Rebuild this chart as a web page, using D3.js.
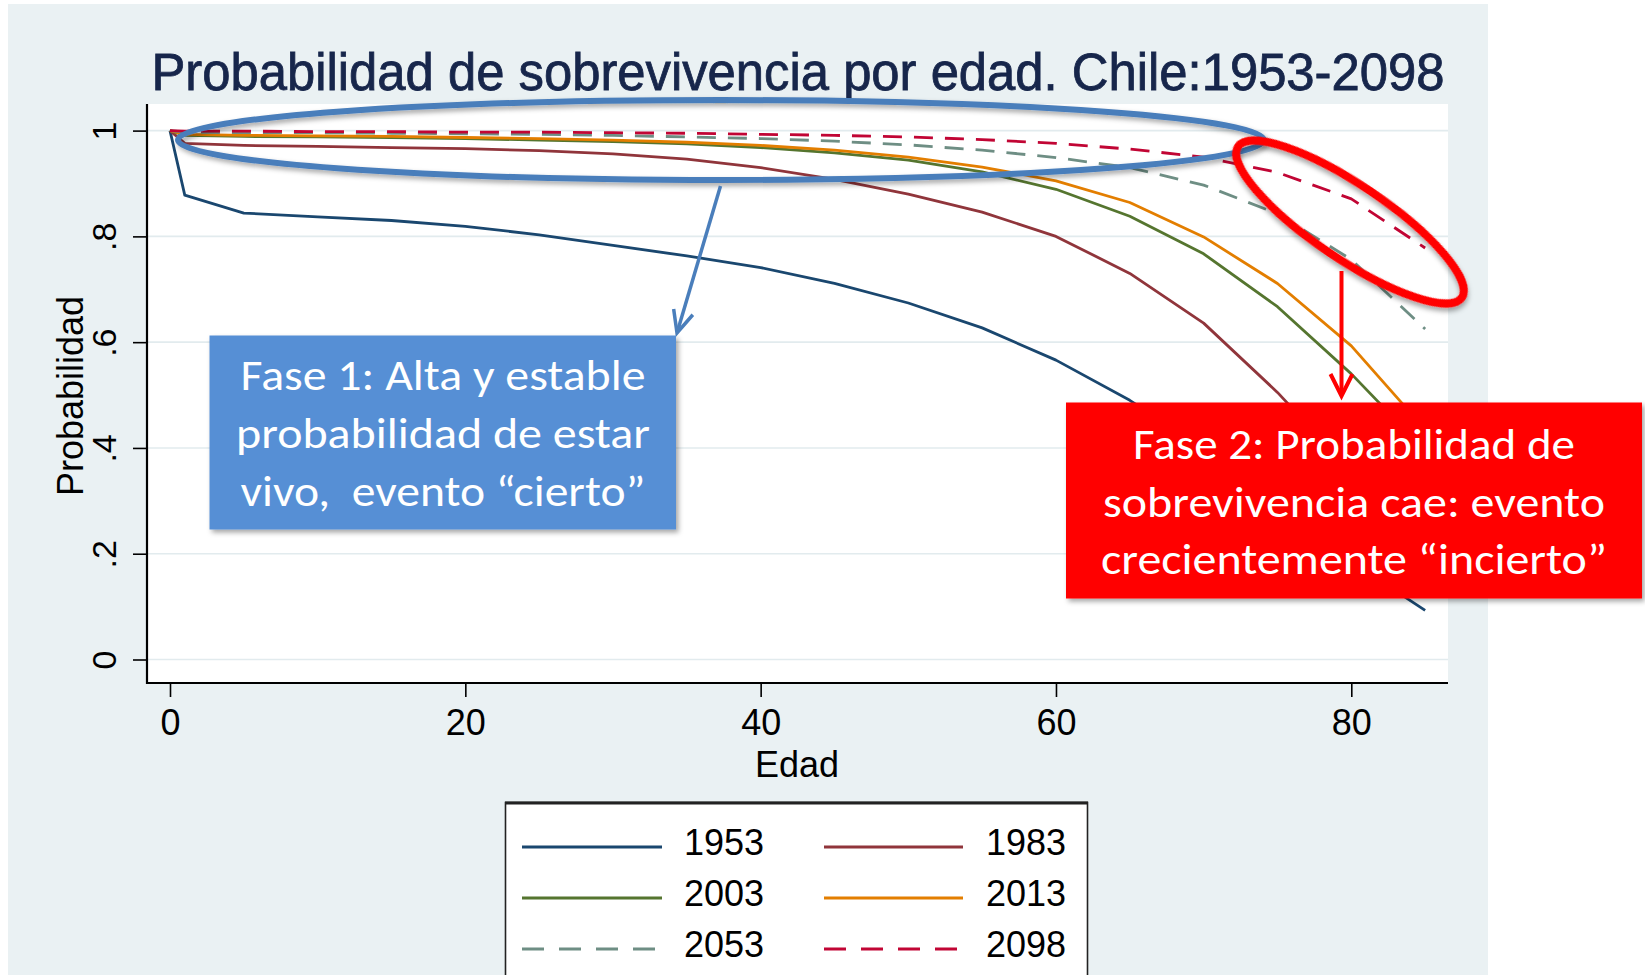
<!DOCTYPE html>
<html>
<head>
<meta charset="utf-8">
<script src="https://cdn.jsdelivr.net/npm/d3@7"></script>
<style>
  html, body { margin: 0; padding: 0; background: #ffffff; }
  svg { display: block; }
</style>
</head>
<body>
<svg id="chart" width="1645" height="975"></svg>
<script>
// ---------------- DATA ----------------
const ages = [0, 1, 5, 10, 15, 20, 25, 30, 35, 40, 45, 50, 55, 60, 65, 70, 75, 80, 85];
const s1953 = [1.000, 0.878, 0.844, 0.837, 0.830, 0.819, 0.803, 0.783, 0.763, 0.741, 0.711, 0.674, 0.627, 0.566, 0.490, 0.400, 0.300, 0.185, 0.093];
const s1983 = [1.000, 0.976, 0.972, 0.970, 0.968, 0.966, 0.962, 0.956, 0.946, 0.930, 0.908, 0.880, 0.846, 0.800, 0.730, 0.636, 0.505, 0.355, 0.205];
const s2003 = [1.000, 0.991, 0.989, 0.988, 0.987, 0.985, 0.982, 0.979, 0.975, 0.968, 0.958, 0.944, 0.922, 0.889, 0.838, 0.767, 0.667, 0.540, 0.395];
const s2013 = [1.000, 0.993, 0.991, 0.990, 0.989, 0.987, 0.985, 0.982, 0.978, 0.972, 0.963, 0.950, 0.931, 0.905, 0.864, 0.799, 0.711, 0.593, 0.435];
const s2053 = [1.000, 0.997, 0.996, 0.996, 0.995, 0.994, 0.993, 0.991, 0.988, 0.985, 0.980, 0.973, 0.963, 0.949, 0.930, 0.897, 0.843, 0.756, 0.625];
const s2098 = [1.000, 0.999, 0.999, 0.998, 0.998, 0.997, 0.997, 0.996, 0.995, 0.993, 0.991, 0.988, 0.983, 0.976, 0.965, 0.950, 0.921, 0.871, 0.778];
const seriesNames = ["1953", "1983", "2003", "2013", "2053", "2098"];
const seriesValues = [s1953, s1983, s2003, s2013, s2053, s2098];
const xTicks = [0, 20, 40, 60, 80];
const yTicks = [0, 0.2, 0.4, 0.6, 0.8, 1];
const yTickLabels = ["0", ".2", ".4", ".6", ".8", "1"];
const titleText = "Probabilidad de sobrevivencia por edad. Chile:1953-2098";
const xTitle = "Edad";
const yTitle = "Probabilidad";
const note1 = ["Fase 1: Alta y estable", "probabilidad de estar", "vivo,  evento \u201ccierto\u201d"];
const note2 = ["Fase 2: Probabilidad de", "sobrevivencia cae: evento", "crecientemente \u201cincierto\u201d"];

// ---------------- STYLE ----------------
const colors = ["#1a476f", "#90353b", "#55752f", "#e37e00", "#6e8e84", "#c10534"];
const dashes = [null, null, null, null, "19,12", "19,12"];
const stataFont = "'Liberation Sans', Arial, Helvetica, sans-serif";
const noteFont = "Carlito, Calibri, Lato, sans-serif";

const svg = d3.select("#chart");
const defs = svg.append("defs");
const f = defs.append("filter").attr("id", "shadow").attr("x", "-10%").attr("y", "-10%").attr("width", "130%").attr("height", "140%");
f.append("feDropShadow").attr("dx", 2.5).attr("dy", 3).attr("stdDeviation", 2.5)
  .attr("flood-color", "#000").attr("flood-opacity", 0.35);

// background panel
svg.append("rect").attr("x", 0).attr("y", 0).attr("width", 1645).attr("height", 975).attr("fill", "#ffffff");
svg.append("rect").attr("x", 8).attr("y", 4).attr("width", 1480).attr("height", 975).attr("fill", "#eaf1f3");

// plot region
const plotL = 147, plotR = 1448, plotT = 104, plotB = 683;
svg.append("rect").attr("x", plotL).attr("y", plotT).attr("width", plotR - plotL).attr("height", plotB - plotT).attr("fill", "#ffffff");

const x = d3.scaleLinear().domain([0, 80]).range([170, 1351.3]);
const y = d3.scaleLinear().domain([0, 1]).range([659.5, 130.6]);

// gridlines
svg.append("g").selectAll("line").data(yTicks).join("line")
  .attr("x1", plotL).attr("x2", plotR)
  .attr("y1", d => y(d)).attr("y2", d => y(d))
  .attr("stroke", "#e2ebee").attr("stroke-width", 1.6);

// title
svg.append("text").attr("x", 798).attr("y", 90).attr("text-anchor", "middle")
  .attr("font-family", stataFont).attr("font-size", 51).attr("fill", "#17264b")
  .attr("stroke", "#17264b").attr("stroke-width", 0.8)
  .attr("textLength", 1293).attr("lengthAdjust", "spacingAndGlyphs")
  .text(titleText);

// series lines
const line = d3.line().x((d, i) => x(ages[i])).y(d => y(d));
const linesG = svg.append("g");
seriesValues.forEach((vals, k) => {
  linesG.append("path").datum(vals)
    .attr("d", line)
    .attr("fill", "none")
    .attr("stroke", colors[k])
    .attr("stroke-width", 2.8)
    .attr("stroke-dasharray", dashes[k])
    .attr("stroke-linejoin", "round");
});

// x axis
const xAxis = svg.append("g").attr("transform", `translate(0,${plotB})`)
  .call(d3.axisBottom(x).tickValues(xTicks).tickSize(14).tickPadding(12).tickSizeOuter(0));
xAxis.select(".domain").remove();
xAxis.selectAll(".tick line").attr("stroke", "#000").attr("stroke-width", 1.6);
xAxis.selectAll(".tick text").attr("font-family", stataFont).attr("font-size", 36).attr("fill", "#000");
svg.append("line").attr("x1", plotL).attr("x2", plotR).attr("y1", plotB).attr("y2", plotB)
  .attr("stroke", "#000").attr("stroke-width", 2.2);

// y axis
const yAxis = svg.append("g").attr("transform", `translate(${plotL},0)`)
  .call(d3.axisLeft(y).tickValues(yTicks).tickSize(14).tickFormat((d, i) => yTickLabels[i]).tickSizeOuter(0));
yAxis.select(".domain").remove();
yAxis.selectAll(".tick line").attr("stroke", "#000").attr("stroke-width", 1.6);
yAxis.selectAll(".tick text")
  .attr("x", null).attr("dy", null)
  .attr("text-anchor", "middle")
  .attr("transform", "translate(-31,0) rotate(-90)")
  .attr("font-family", stataFont).attr("font-size", 34).attr("fill", "#000");
svg.append("line").attr("x1", plotL).attr("x2", plotL).attr("y1", plotT).attr("y2", plotB + 1)
  .attr("stroke", "#000").attr("stroke-width", 2.2);

// axis titles
svg.append("text").attr("x", 797).attr("y", 777).attr("text-anchor", "middle")
  .attr("font-family", stataFont).attr("font-size", 36).attr("fill", "#000").text(xTitle);
svg.append("text").attr("transform", "translate(83,396) rotate(-90)").attr("text-anchor", "middle")
  .attr("font-family", stataFont).attr("font-size", 36).attr("fill", "#000").text(yTitle);

// legend
const lg = svg.append("g");
lg.append("rect").attr("x", 505.5).attr("y", 802.5).attr("width", 582).attr("height", 200)
  .attr("fill", "#ffffff").attr("stroke", "#222").attr("stroke-width", 1.6);
lg.append("line").attr("x1", 505).attr("x2", 1088).attr("y1", 803).attr("y2", 803)
  .attr("stroke", "#222").attr("stroke-width", 3);
const colLineX = [[522, 662], [824, 963]];
const colTextX = [684, 986];
const rowBase = [855, 906, 957];
seriesNames.forEach((name, k) => {
  const col = k % 2, row = Math.floor(k / 2);
  lg.append("line")
    .attr("x1", colLineX[col][0]).attr("x2", colLineX[col][1])
    .attr("y1", rowBase[row] - 8).attr("y2", rowBase[row] - 8)
    .attr("stroke", colors[k]).attr("stroke-width", 3)
    .attr("stroke-dasharray", dashes[k] ? "22,15" : null);
  lg.append("text").attr("x", colTextX[col]).attr("y", rowBase[row])
    .attr("font-family", stataFont).attr("font-size", 36).attr("fill", "#000").text(name);
});

// ---------------- ANNOTATIONS ----------------
const ann = svg.append("g");
// blue ellipse
ann.append("ellipse").attr("cx", 721).attr("cy", 140).attr("rx", 543).attr("ry", 40)
  .attr("fill", "none").attr("stroke", "#4a7ebb").attr("stroke-width", 6).attr("filter", "url(#shadow)");
// red ellipse
ann.append("ellipse").attr("cx", 0).attr("cy", 0).attr("rx", 135).attr("ry", 37)
  .attr("transform", "translate(1350,222) rotate(34)")
  .attr("fill", "none").attr("stroke", "#ff0000").attr("stroke-width", 8).attr("filter", "url(#shadow)");

// arrows
function arrow(g, x1, y1, x2, y2, color, w, head, spread) {
  const dx = x2 - x1, dy = y2 - y1, L = Math.hypot(dx, dy);
  const ux = dx / L, uy = dy / L, px = -uy, py = ux;
  g.append("line").attr("x1", x1).attr("y1", y1).attr("x2", x2 - ux * 2).attr("y2", y2 - uy * 2)
    .attr("stroke", color).attr("stroke-width", w);
  const bx = x2 - ux * head, by = y2 - uy * head;
  g.append("path")
    .attr("d", `M${bx + px * spread},${by + py * spread}L${x2},${y2}L${bx - px * spread},${by - py * spread}`)
    .attr("fill", "none").attr("stroke", color).attr("stroke-width", w).attr("stroke-linejoin", "miter");
}
arrow(ann, 720.5, 186, 677, 333, "#4a7ebb", 3.5, 22, 10);
arrow(ann, 1341.5, 271, 1341.5, 396, "#ff0000", 4, 22, 11);

// blue box
ann.append("rect").attr("x", 209.5).attr("y", 335.5).attr("width", 466.5).attr("height", 194)
  .attr("fill", "#568fd5").attr("filter", "url(#shadow)");
const n1Base = [390, 448, 506];
const n1Width = [405, 414, 405];
note1.forEach((t, i) => {
  ann.append("text").attr("x", 443).attr("y", n1Base[i]).attr("text-anchor", "middle")
    .attr("font-family", noteFont).attr("font-size", 43).attr("fill", "#ffffff")
    .style("white-space", "pre")
    .attr("textLength", n1Width[i]).attr("lengthAdjust", "spacingAndGlyphs").text(t);
});

// red box
ann.append("rect").attr("x", 1066).attr("y", 402.5).attr("width", 576).attr("height", 196)
  .attr("fill", "#ff0000").attr("filter", "url(#shadow)");
const n2Base = [459, 517, 574];
const n2Width = [442, 502, 506];
note2.forEach((t, i) => {
  ann.append("text").attr("x", 1354).attr("y", n2Base[i]).attr("text-anchor", "middle")
    .attr("font-family", noteFont).attr("font-size", 43).attr("fill", "#ffffff")
    .style("white-space", "pre")
    .attr("textLength", n2Width[i]).attr("lengthAdjust", "spacingAndGlyphs").text(t);
});
</script>
</body>
</html>
